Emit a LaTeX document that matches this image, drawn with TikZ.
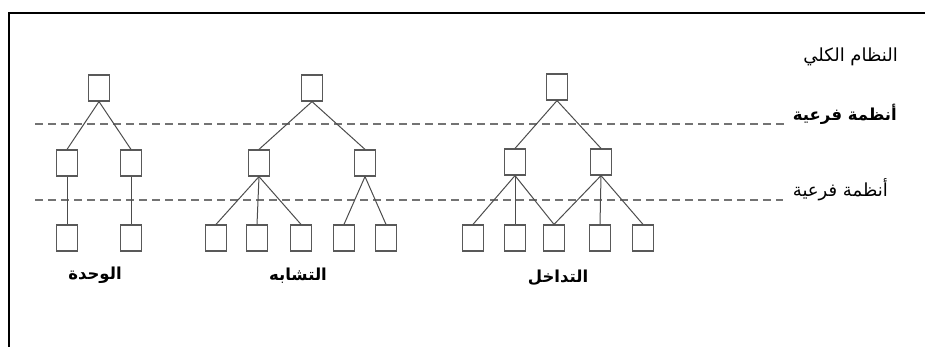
\documentclass[tikz,border=0pt]{standalone}
\usepackage{fontspec}
\TeXXeTstate=1
\newfontfamily\arabicfont[Script=Arabic]{DejaVu Sans}
\begin{document}
\begin{tikzpicture}[x=1pt,y=-1pt,
  sbox/.style={draw=black!65,line width=1.2pt,minimum width=21pt,minimum height=26pt,inner sep=0pt,fill=white},
  link/.style={draw=black!70,line width=1pt},
  level/.style={draw=black!55,line width=1.1pt,dash pattern=on 8pt off 5pt},
  frame/.style={draw=black,line width=1.6pt},
  lbl/.style={font=\arabicfont\fontsize{18}{20}\selectfont,inner sep=0pt},
  blbl/.style={font=\arabicfont\bfseries\fontsize{16.5}{19}\selectfont,inner sep=0pt}]
\useasboundingbox (0,0) rectangle (925,347);
% frame
\coordinate (fb) at (9,347);
\coordinate (fc) at (9,13);
\coordinate (fr) at (925,13);
\draw[frame] (fb) -- (fc) -- (fr);
% level lines
\coordinate (l1a) at (35,124);
\coordinate (l1b) at (785,124);
\coordinate (l2a) at (35,200);
\coordinate (l2b) at (783,200);
\draw[level] (l1a) -- (l1b);
\draw[level] (l2a) -- (l2b);
% unity
\node[sbox] (ut) at (99,88) {};
\node[sbox] (um1) at (67,163) {};
\node[sbox] (um2) at (131,163) {};
\node[sbox] (ub1) at (67,238) {};
\node[sbox] (ub2) at (131,238) {};
\draw[link] (ut.south) -- (um1.north);
\draw[link] (ut.south) -- (um2.north);
\draw[link] (um1.south) -- (ub1.north);
\draw[link] (um2.south) -- (ub2.north);
% similarity
\node[sbox] (st) at (312,88) {};
\node[sbox] (sm1) at (259,163) {};
\node[sbox] (sm2) at (365,163) {};
\node[sbox] (sb1) at (216,238) {};
\node[sbox] (sb2) at (257,238) {};
\node[sbox] (sb3) at (301,238) {};
\node[sbox] (sb4) at (344,238) {};
\node[sbox] (sb5) at (386,238) {};
\draw[link] (st.south) -- (sm1.north);
\draw[link] (st.south) -- (sm2.north);
\draw[link] (sm1.south) -- (sb1.north);
\draw[link] (sm1.south) -- (sb2.north);
\draw[link] (sm1.south) -- (sb3.north);
\draw[link] (sm2.south) -- (sb4.north);
\draw[link] (sm2.south) -- (sb5.north);
% interference
\node[sbox] (it) at (557,87) {};
\node[sbox] (im1) at (515,162) {};
\node[sbox] (im2) at (601,162) {};
\node[sbox] (ib1) at (473,238) {};
\node[sbox] (ib2) at (515,238) {};
\node[sbox] (ib3) at (554,238) {};
\node[sbox] (ib4) at (600,238) {};
\node[sbox] (ib5) at (643,238) {};
\draw[link] (it.south) -- (im1.north);
\draw[link] (it.south) -- (im2.north);
\draw[link] (im1.south) -- (ib1.north);
\draw[link] (im1.south) -- (ib2.north);
\draw[link] (im1.south) -- (ib3.north);
\draw[link] (im2.south) -- (ib3.north);
\draw[link] (im2.south) -- (ib4.north);
\draw[link] (im2.south) -- (ib5.north);
% labels
\node[lbl,anchor=east] (whole) at (898,57) {\beginR النظام الكلي\endR};
\node[blbl,anchor=east] (sub1) at (897,114) {\beginR أنظمة فرعية\endR};
\node[lbl,anchor=east] (sub2) at (888,190) {\beginR أنظمة فرعية\endR};
\node[blbl] (nu) at (95,275) {\beginR الوحدة\endR};
\node[blbl] (ns) at (298,276) {\beginR التشابه\endR};
\node[blbl] (ni) at (558,278) {\beginR التداخل\endR};
\end{tikzpicture}
\end{document}
